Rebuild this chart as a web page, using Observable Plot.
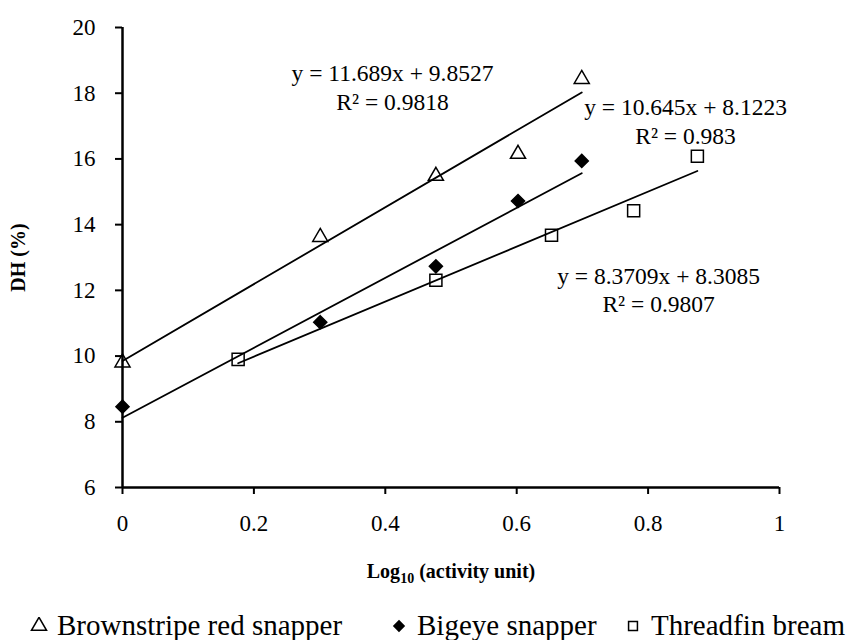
<!DOCTYPE html>
<html>
<head>
<meta charset="utf-8">
<script src="https://cdn.jsdelivr.net/npm/d3@7"></script>
<script src="https://cdn.jsdelivr.net/npm/@observablehq/plot@0.6"></script>
<style>
  html, body { margin: 0; padding: 0; background: #fff; }
  body { width: 847px; height: 640px; overflow: hidden; font-family: "Liberation Serif", "Times New Roman", serif; }
  #chart { position: relative; width: 847px; }
  #legend { position: relative; width: 847px; height: 45px; font-size: 29px; color: #000; }
  #legend .item { position: absolute; top: 0; height: 45px; display: flex; align-items: center; white-space: nowrap; }
  #legend svg { margin-right: 9px; }
  svg text { font-family: "Liberation Serif", "Times New Roman", serif; }
</style>
</head>
<body>
<div id="chart"></div>
<div id="legend"></div>
<script>
// ---- data ----
const seriesNames = ["Brownstripe red snapper", "Bigeye snapper", "Threadfin bream"];
const brownX = [0, 0.301, 0.477, 0.602, 0.699];
const brownY = [9.8, 13.62, 15.48, 16.15, 18.43];
const bigeyeX = [0, 0.301, 0.477, 0.602, 0.699];
const bigeyeY = [8.46, 11.03, 12.73, 14.72, 15.94];
const threadX = [0.176, 0.477, 0.653, 0.778, 0.875];
const threadY = [9.9, 12.31, 13.68, 14.42, 16.08];
const slopes = [11.689, 10.645, 8.3709];
const intercepts = [9.8527, 8.1223, 8.3085];
const r2Values = ["0.9818", "0.983", "0.9807"];
const labelX = [0.411, 0.857, 0.816];
const labelY = [18.2, 17.17, 12.05];
const xTicks = [0, 0.2, 0.4, 0.6, 0.8, 1];
const yTicks = [6, 8, 10, 12, 14, 16, 18, 20];
const symbols = ["triangle", "diamond2", "square"];
const symbolFills = ["none", "black", "none"];
const symbolRadii = [5.6, 5.9, 6.8];

// ---- build tables ----
const xs = [brownX, bigeyeX, threadX];
const ys = [brownY, bigeyeY, threadY];
const points = [];
seriesNames.forEach((s, i) => xs[i].forEach((x, j) => points.push({series: s, idx: i, x, y: ys[i][j]})));
const lines = [];
seriesNames.forEach((s, i) => {
  const [x0, x1] = d3.extent(xs[i]);
  [x0, x1].forEach(x => lines.push({series: s, x, y: slopes[i] * x + intercepts[i]}));
});
const labels = seriesNames.map((s, i) => ({
  x: labelX[i], y: labelY[i],
  text: `y = ${slopes[i]}x + ${intercepts[i]}\nR² = ${r2Values[i]}`
}));

const font = '"Liberation Serif", "Times New Roman", serif';

const plot = Plot.plot({
  width: 847,
  height: 595,
  marginLeft: 122,
  marginRight: 68,
  marginTop: 27,
  marginBottom: 108,
  style: {fontFamily: font, fontSize: "22px", background: "#fff", color: "#000"},
  x: {domain: [0, 1]},
  y: {domain: [6, 20]},
  marks: [
    // markers (drawn first; trend lines cross over them)
    ...seriesNames.map((s, i) => Plot.dot(points.filter(d => d.idx === i), {
      x: "x", y: "y", symbol: () => symbols[i], r: symbolRadii[i],
      fill: symbolFills[i], stroke: "black", strokeWidth: 1.5
    })),
    Plot.line(lines, {x: "x", y: "y", z: "series", stroke: "black", strokeWidth: 1.8}),
    Plot.text(labels, {x: "x", y: "y", text: "text", fontSize: 23.5, lineHeight: 1.22, textAnchor: "middle", fill: "black", fontFamily: font}),
    Plot.axisY(yTicks, {tickSize: 7, tickPadding: 20, strokeWidth: 2, fontSize: 23, fontFamily: font,
      label: "DH (%)", labelAnchor: "center", labelOffset: 112, labelArrow: "none"}),
    Plot.axisX(xTicks, {tickSize: 7, tickPadding: 20, strokeWidth: 2, fontSize: 23, fontFamily: font,
      tickFormat: d => String(d),
      label: "Log10 (activity unit)", labelAnchor: "center", labelOffset: 90, labelArrow: "none"}),
    Plot.ruleX([0], {stroke: "black", strokeWidth: 2.5}),
    Plot.ruleY([6], {stroke: "black", strokeWidth: 2.5})
  ]
});
document.getElementById("chart").appendChild(plot);

const svg = d3.select(plot);
// tick labels: serif, larger
svg.selectAll('g[aria-label="y-axis tick label"], g[aria-label="x-axis tick label"]')
  .attr("font-size", 23).attr("font-family", font);
svg.selectAll('g[aria-label="y-axis tick label"] text, g[aria-label="x-axis tick label"] text')
  .style("font-size", "23px").style("font-family", font);
// bold axis titles, subscript for Log10
svg.selectAll('g[aria-label="y-axis label"] text, g[aria-label="x-axis label"] text')
  .style("font-weight", "bold").style("font-size", "20px").style("font-family", font);
const xl = svg.select('g[aria-label="x-axis label"] text');
xl.text(null);
xl.append("tspan").text("Log");
xl.append("tspan").text("10").attr("font-size", "14px").attr("dy", "5");
xl.append("tspan").text(" (activity unit)").attr("dy", "-5");

// ---- legend ----
const legendLeft = [30, 390, 624];
const legend = d3.select("#legend");
seriesNames.forEach((s, i) => {
  const item = legend.append("div").attr("class", "item").style("left", legendLeft[i] + "px").style("top", "8px");
  const sv = item.append("svg").attr("width", 18).attr("height", 18).attr("viewBox", "-9 -9 18 18");
  const sym = {triangle: d3.symbolTriangle, diamond2: d3.symbolDiamond2, square: d3.symbolSquare}[symbols[i]];
  const sz = [Math.PI * 5.6 * 5.6, Math.PI * 4.6 * 4.6, Math.PI * 5 * 5][i];
  sv.append("path").attr("d", d3.symbol(sym, sz)())
    .attr("fill", symbolFills[i]).attr("stroke", "black").attr("stroke-width", 1.5);
  item.append("span").text(s);
});
</script>
</body>
</html>
